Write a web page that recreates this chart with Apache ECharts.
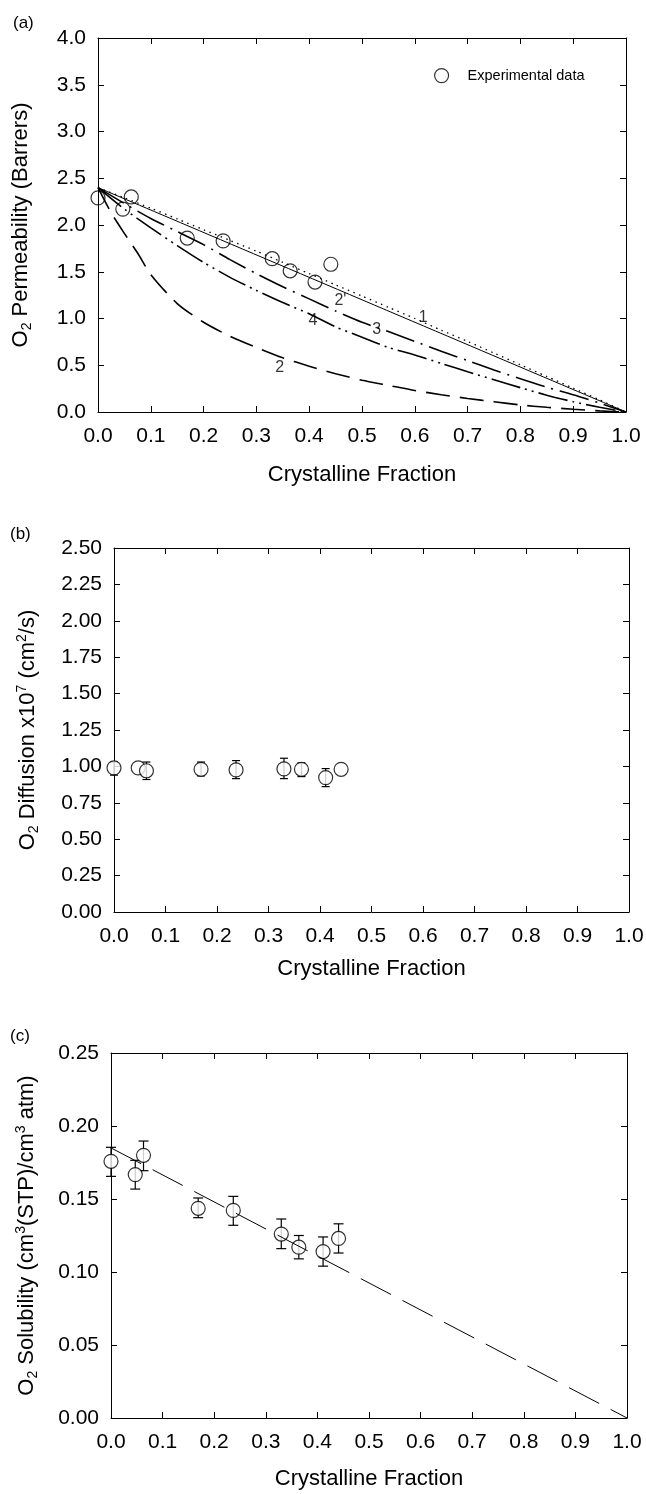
<!DOCTYPE html>
<html><head><meta charset="utf-8">
<script src="https://cdn.jsdelivr.net/npm/echarts@6/dist/echarts.min.js"></script>
<style>html,body{margin:0;padding:0;background:#fff}#c{width:646px;height:1494px}</style>
</head><body><div id="c"></div>
<script>
// ---------- data ----------
const crystFrac = [0, 0.047, 0.063, 0.169, 0.237, 0.330, 0.364, 0.411, 0.441];
const permeability = [2.29, 2.17, 2.30, 1.86, 1.83, 1.64, 1.51, 1.39, 1.58];

const diffusion     = [0.99, 0.99, 0.97, 0.98, 0.976, 0.983, 0.98, 0.923, 0.98];
const diffusionLow  = [0.94, null, 0.91, 0.935, 0.916, 0.916, 0.93, 0.861, null];
const diffusionHigh = [1.03, null, 1.03, 1.03, 1.04, 1.056, 1.024, 0.985, null];

const solubility     = [0.1758, 0.1667, 0.1799, 0.1436, 0.1422, 0.126, 0.117, 0.114, 0.123];
const solubilityLow  = [0.1655, 0.1568, 0.1694, 0.1372, 0.132, 0.116, 0.109, 0.104, 0.113];
const solubilityHigh = [0.1854, 0.1765, 0.1897, 0.1507, 0.1518, 0.1363, 0.125, 0.124, 0.133];

const fitX = [0, 1];
const fitY = [0.185, 0];

const line1X = [0, 1];
const line1Y = [2.4, 0];
const modelX = [0, 0.05, 0.1, 0.15, 0.2, 0.25, 0.3, 0.35, 0.4, 0.45, 0.5, 0.55, 0.6, 0.65, 0.7, 0.75, 0.8, 0.85, 0.9, 0.95, 1.0];
const curve2pY = [2.40, 2.29, 2.18, 2.065, 1.95, 1.835, 1.72, 1.60, 1.48, 1.36, 1.24, 1.12, 1.00, 0.875, 0.755, 0.63, 0.505, 0.38, 0.255, 0.13, 0];
const curve3Y  = [2.40, 2.23, 2.07, 1.93, 1.79, 1.63, 1.48, 1.34, 1.21, 1.08, 0.96, 0.86, 0.755, 0.65, 0.55, 0.45, 0.355, 0.265, 0.185, 0.095, 0];
const curve4Y  = [2.40, 2.17, 1.97, 1.78, 1.60, 1.44, 1.30, 1.17, 1.05, 0.91, 0.80, 0.69, 0.61, 0.52, 0.43, 0.345, 0.26, 0.18, 0.11, 0.05, 0];
const curve2X  = [0, 0.025, 0.05, 0.075, 0.1, 0.15, 0.2, 0.25, 0.3, 0.35, 0.4, 0.45, 0.5, 0.55, 0.6, 0.65, 0.7, 0.75, 0.8, 0.85, 0.9, 0.95, 1.0];
const curve2Y  = [2.40, 2.13, 1.91, 1.70, 1.47, 1.16, 0.96, 0.81, 0.69, 0.58, 0.49, 0.41, 0.34, 0.285, 0.23, 0.185, 0.145, 0.11, 0.075, 0.05, 0.03, 0.012, 0];

const curveLabelText = ['1', "2'", '3', '4', '2'];
const curveLabelX = [0.616, 0.459, 0.528, 0.407, 0.344];
const curveLabelY = [1.007, 1.19, 0.88, 0.98, 0.475];

const xTicks = {min: 0, max: 1, interval: 0.1};
const yTicksA = {min: 0, max: 4, interval: 0.5};
const yTicksB = {min: 0, max: 2.5, interval: 0.25};
const yTicksC = {min: 0, max: 0.25, interval: 0.05};

// ---------- helpers ----------
const FF = "'Liberation Sans', Arial, Helvetica, sans-serif";
const black = '#000';
const zip = (xs, ys) => xs.map((x, i) => [x, ys[i]]);

function xAxes(gridIndex, name, nameGap) {
  const common = {type: 'value', gridIndex, min: xTicks.min, max: xTicks.max, interval: xTicks.interval,
    axisLine: {show: true, onZero: false, lineStyle: {color: black, width: 1}},
    axisTick: {show: true, inside: true, length: 6, lineStyle: {color: black, width: 1}},
    splitLine: {show: false}};
  return [
    Object.assign({}, common, {position: 'bottom',
      axisLabel: {color: black, fontSize: 21, fontFamily: FF, margin: 14, formatter: v => v.toFixed(1)},
      name, nameLocation: 'middle', nameGap,
      nameTextStyle: {color: black, fontSize: 22, fontFamily: FF}}),
    Object.assign({}, common, {position: 'top', axisLabel: {show: false}})
  ];
}
function yAxes(gridIndex, t, digits, name, nameGap) {
  const common = {type: 'value', gridIndex, min: t.min, max: t.max, interval: t.interval,
    axisLine: {show: true, onZero: false, lineStyle: {color: black, width: 1}},
    axisTick: {show: true, inside: true, length: 6, lineStyle: {color: black, width: 1}},
    splitLine: {show: false}};
  const rich = {
    t: {fontSize: 22, lineHeight: 26, fontFamily: FF, color: black},
    sub: {fontSize: 14, lineHeight: 14, verticalAlign: 'bottom', fontFamily: FF, color: black},
    sup: {fontSize: 14, lineHeight: 14, verticalAlign: 'top', fontFamily: FF, color: black}
  };
  return [
    Object.assign({}, common, {position: 'left',
      axisLabel: {color: black, fontSize: 21, fontFamily: FF, margin: 12, formatter: v => v.toFixed(digits)},
      name, nameLocation: 'middle', nameGap, nameRotate: 90,
      nameTextStyle: {color: black, fontSize: 22, fontFamily: FF, lineHeight: 26, rich}}),
    Object.assign({}, common, {position: 'right', axisLabel: {show: false}})
  ];
}
// each grid g owns xAxis/yAxis indices 2g (bottom/left) and 2g+1 (top/right)
function errorBars(g, xs, lo, hi, capHalf) {
  const data = xs.map((x, i) => [x, lo[i], hi[i]]).filter(d => d[1] != null);
  return {type: 'custom', xAxisIndex: 2 * g, yAxisIndex: 2 * g, z: 2, silent: true,
    encode: {x: 0, y: [1, 2]}, data,
    renderItem(params, api) {
      const x = api.value(0);
      const p1 = api.coord([x, api.value(1)]);
      const p2 = api.coord([x, api.value(2)]);
      const style = {stroke: black, lineWidth: 1.2, fill: null};
      return {type: 'group', children: [
        {type: 'line', shape: {x1: p1[0], y1: p1[1], x2: p2[0], y2: p2[1]}, style},
        {type: 'line', shape: {x1: p1[0] - capHalf, y1: p1[1], x2: p1[0] + capHalf, y2: p1[1]}, style},
        {type: 'line', shape: {x1: p2[0] - capHalf, y1: p2[1], x2: p2[0] + capHalf, y2: p2[1]}, style}
      ]};
    }};
}
function curve(g, data, type, width, z) {
  return {type: 'line', xAxisIndex: 2 * g, yAxisIndex: 2 * g, data, symbol: 'none', showSymbol: false,
    smooth: 0.25, silent: true, z: z || 2,
    lineStyle: {color: black, width, type}};
}
function scatter(g, data, fill, name) {
  return {type: 'scatter', name, xAxisIndex: 2 * g, yAxisIndex: 2 * g, data, symbol: 'circle', symbolSize: 14,
    z: 3, silent: true,
    itemStyle: {color: fill, borderColor: black, borderWidth: 1.2}};
}

const yNameA = '{t|O}{sub|2}{t| Permeability (Barrers)}';
const yNameB = '{t|O}{sub|2}{t| Diffusion x10}{sup|7}{t| (cm}{sup|2}{t|/s)}';
const yNameC = '{t|O}{sub|2}{t| Solubility (cm}{sup|3}{t|(STP)/cm}{sup|3}{t| atm)}';

const chart = echarts.init(document.getElementById('c'), null, {renderer: 'canvas'});
chart.setOption({
  backgroundColor: '#fff',
  animation: false,
  grid: [
    {left: 98, top: 38, width: 528, height: 374, containLabel: false, outerBoundsMode: 'none'},
    {left: 114, top: 548, width: 515, height: 364, containLabel: false, outerBoundsMode: 'none'},
    {left: 111, top: 1053, width: 516, height: 365, containLabel: false, outerBoundsMode: 'none'}
  ],
  xAxis: [].concat(
    xAxes(0, 'Crystalline Fraction', 52),
    xAxes(1, 'Crystalline Fraction', 46),
    xAxes(2, 'Crystalline Fraction', 50)
  ),
  yAxis: [].concat(
    yAxes(0, yTicksA, 1, yNameA, 64),
    yAxes(1, yTicksB, 2, yNameB, 73),
    yAxes(2, yTicksC, 2, yNameC, 71)
  ),
  legend: {
    data: ['Experimental data'], left: 434, top: 68, padding: 0, itemWidth: 14, itemHeight: 14, icon: 'circle',
    selectedMode: false,
    itemStyle: {color: 'rgba(0,0,0,0)', borderColor: black, borderWidth: 1.2},
    textStyle: {color: black, fontSize: 14.5, fontFamily: FF, padding: [0, 0, 0, 14]}
  },
  graphic: [
    {type: 'text', left: 13, top: 15, style: {text: '(a)', fontSize: 17, fontFamily: FF, fill: black}},
    {type: 'text', left: 10, top: 526, style: {text: '(b)', fontSize: 17, fontFamily: FF, fill: black}},
    {type: 'text', left: 10, top: 1028, style: {text: '(c)', fontSize: 17, fontFamily: FF, fill: black}}
  ],
  series: [
    // panel (a)
    curve(0, zip(line1X, line1Y), 'solid', 1),
    curve(0, zip(modelX, curve2pY), [1.5, 4.5], 1.3),
    curve(0, zip(modelX, curve3Y), [30, 7, 2, 7], 1.6),
    curve(0, zip(modelX, curve4Y), [30, 5, 2, 5, 2, 5], 1.6),
    curve(0, zip(curve2X, curve2Y), [24, 10], 1.6),
    scatter(0, zip(crystFrac, permeability), 'rgba(0,0,0,0)', 'Experimental data'),
    {type: 'scatter', xAxisIndex: 0, yAxisIndex: 0, silent: true, symbolSize: 1, z: 4,
      itemStyle: {color: 'rgba(0,0,0,0)'},
      data: curveLabelX.map((x, i) => ({value: [x, curveLabelY[i]], name: curveLabelText[i]})),
      label: {show: true, position: 'inside', formatter: p => p.name, color: black, fontSize: 16, fontFamily: FF}},
    // panel (b)
    errorBars(1, crystFrac, diffusionLow, diffusionHigh, 4),
    scatter(1, zip(crystFrac, diffusion), '#fff'),
    // panel (c)
    errorBars(2, crystFrac, solubilityLow, solubilityHigh, 5),
    scatter(2, zip(crystFrac, solubility), '#fff'),
    Object.assign(curve(2, zip(fitX, fitY), [34, 13], 1, 4), {smooth: false})
  ]
});
</script>
</body></html>
